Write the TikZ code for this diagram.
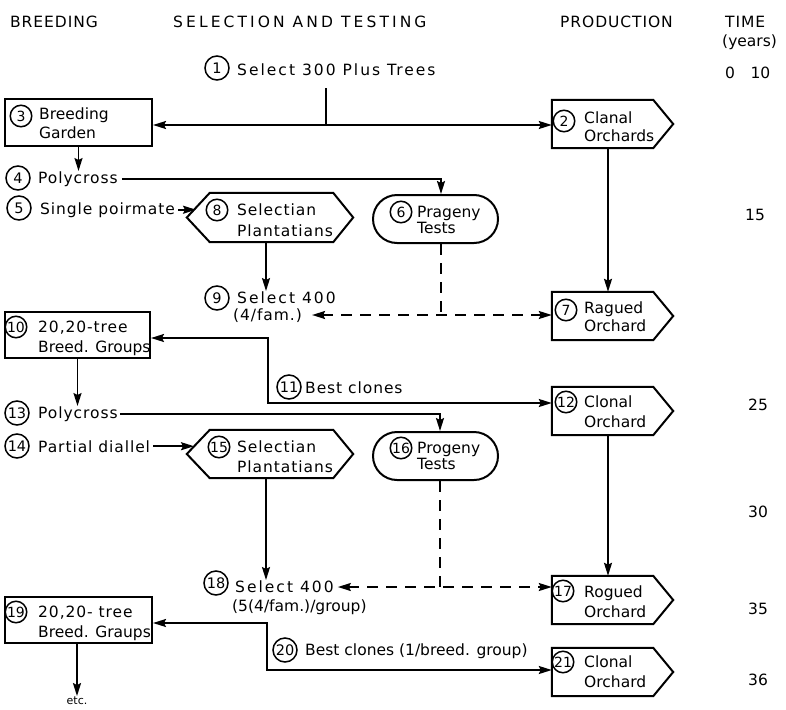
\documentclass[tikz,border=0pt]{standalone}
\usepackage{fontspec}
\setmainfont{DejaVu Sans}
\newfontfamily\wideA[LetterSpace=13]{DejaVu Sans}
\newfontfamily\wideB[LetterSpace=20]{DejaVu Sans}
\newfontfamily\wideC[LetterSpace=6]{DejaVu Sans}
\usetikzlibrary{shapes.misc,arrows.meta}
\newcommand\pentout[1]{\draw[line width=2pt,line join=miter] (#1.north west) -- ([xshift=-20pt]#1.north east) -- (#1.east) -- ([xshift=-20pt]#1.south east) -- (#1.south west) -- cycle;}
\newcommand\hexout[1]{\draw[line width=2pt,line join=miter] (#1.west) -- ([xshift=23pt]#1.north west) -- ([xshift=-20pt]#1.north east) -- (#1.east) -- ([xshift=-20pt]#1.south east) -- ([xshift=23pt]#1.south west) -- cycle;}
\tikzset{
 txt/.style={inner sep=0pt, anchor=base west, font=\fontsize{15.5}{19}\selectfont},
 ftxt/.style={txt, font=\wideC\fontsize{15.5}{19}\selectfont},
 stxt/.style={txt, font=\wideA\fontsize{15.5}{19}\selectfont},
 htxt/.style={txt, font=\wideB\fontsize{15.5}{19}\selectfont},
 tim/.style={inner sep=0pt, anchor=base, font=\fontsize{15.5}{19}\selectfont},
 num/.style={circle, draw, line width=1.5pt, inner sep=0pt, minimum size=24pt, font=\fontsize{14.5}{14.5}\selectfont},
 numin/.style={num, minimum size=21.5pt, font=\fontsize{14}{14}\selectfont},
 box/.style={draw, line width=2pt, inner sep=0pt, minimum width=147pt, minimum height=47pt},
 shp/.style={inner sep=0pt, minimum width=121pt, minimum height=48pt},
 hexshp/.style={inner sep=0pt, minimum width=166pt, minimum height=48pt},
 stad/.style={draw, rounded rectangle, line width=2pt, inner sep=0pt, minimum width=125pt, minimum height=48pt},
 conn/.style={line width=1.9pt},
 dsh/.style={conn, dash pattern=on 11pt off 8pt},
}
\begin{document}
\begin{tikzpicture}[x=1pt,y=-1pt,>={Stealth[length=13pt,width=8pt,inset=2pt]}]
\useasboundingbox (0,0) rectangle (786,709);
% headers
\node[ftxt] (hB) at (10,28) {BREEDING};
\node[htxt] (hS) at (173,28) {SELECTION AND TESTING};
\node[ftxt] (hP) at (560,28) {PRODUCTION};
\node[ftxt] (hT) at (725,28) {TIME};
\node[txt] (hY) at (722,47) {(years)};
\node[txt] (y0) at (725,78) {0\quad 10};
\node[tim] (ti15) at (755,220) {15};
\node[tim] (ti25) at (758,410) {25};
\node[tim] (ti30) at (758,517) {30};
\node[tim] (ti35) at (758,614) {35};
\node[tim] (ti36) at (758,685) {36};
% 1
\node[num] (c1) at (217,68) {1};
\node[stxt] (t1) at (237,75) {Select 300 Plus Trees};
% 3
\node[box] (b3) at (78.5,122) {};
\node[numin] (c3) at (21,116) {3};
\node[txt] (t3a) at (39,119) {Breeding};
\node[txt] (t3b) at (39,138) {Garden};
% 2
\node[shp] (o2) at (612.5,124) {};
\pentout{o2}
\node[numin] (c2) at (564,121) {2};
\node[txt] (t2a) at (584,123) {Clanal};
\node[txt] (t2b) at (584,141) {Orchards};
% 4, 5
\node[num] (c4) at (18,178) {4};
\node[ftxt] (t4) at (38,183) {Polycross};
\node[num] (c5) at (19,208) {5};
\node[ftxt] (t5) at (40,214) {Single poirmate};
% 8
\node[hexshp,minimum height=49pt] (h8) at (270,217.5) {};
\hexout{h8}
\node[numin] (c8) at (217,210) {8};
\node[ftxt] (t8a) at (237,215) {Selectian};
\node[ftxt] (t8b) at (237,236) {Plantatians};
% 6
\node[stad] (s6) at (435.5,219) {};
\node[numin] (c6) at (401,212) {6};
\node[txt] (t6a) at (417,217) {Prageny};
\node[txt] (t6b) at (417,233) {Tests};
% 7
\node[shp] (o7) at (612.5,316) {};
\pentout{o7}
\node[numin] (c7) at (566,310) {7};
\node[txt] (t7a) at (584,313) {Ragued};
\node[txt] (t7b) at (584,331) {Orchard};
% 9
\node[num] (c9) at (217,298) {9};
\node[stxt] (t9a) at (237,303) {Select 400};
\node[ftxt] (t9b) at (233,320) {(4/fam.)};
% 10
\node[box,minimum width=145pt,minimum height=46pt] (b10) at (77.5,335) {};
\node[numin] (c10) at (16,327) {10};
\node[ftxt] (t10a) at (38,332) {20,20-tree};
\node[txt] (t10b) at (38,352) {Breed. Groups};
% 11
\node[num] (c11) at (289,387) {11};
\node[ftxt] (t11) at (305,393) {Best clones};
% 12
\node[shp] (o12) at (612.5,411) {};
\pentout{o12}
\node[numin] (c12) at (566,402) {12};
\node[txt] (t12a) at (584,407) {Clonal};
\node[txt] (t12b) at (584,427) {Orchard};
% 13, 14
\node[num] (c13) at (17,413) {13};
\node[ftxt] (t13) at (38,418) {Polycross};
\node[num] (c14) at (17,446) {14};
\node[ftxt] (t14) at (38,452) {Partial diallel};
% 15
\node[hexshp] (h15) at (270,454) {};
\hexout{h15}
\node[numin] (c15) at (219,447) {15};
\node[ftxt] (t15a) at (237,452) {Selectian};
\node[ftxt] (t15b) at (237,472) {Plantatians};
% 16
\node[stad] (s16) at (435.5,456) {};
\node[numin] (c16) at (401,448) {16};
\node[txt] (t16a) at (417,453) {Progeny};
\node[txt] (t16b) at (417,469) {Tests};
% 18
\node[num] (c18) at (216,583) {18};
\node[stxt] (t18a) at (235,592) {Select 400};
\node[txt] (t18b) at (232,611) {(5(4/fam.)/group)};
% 17
\node[shp] (o17) at (612.5,600) {};
\pentout{o17}
\node[numin] (c17) at (563,591) {17};
\node[txt] (t17a) at (584,597) {Rogued};
\node[txt] (t17b) at (584,617) {Orchard};
% 19
\node[box,minimum height=46pt] (b19) at (78.5,620) {};
\node[numin] (c19) at (16,612) {19};
\node[ftxt] (t19a) at (38,617) {20,20- tree};
\node[txt] (t19b) at (38,637) {Breed. Graups};
% 20
\node[num] (c20) at (285,650) {20};
\node[txt] (t20) at (305,655) {Best clones (1/breed. group)};
% 21
\node[shp] (o21) at (612.5,672) {};
\pentout{o21}
\node[numin] (c21) at (563,662) {21};
\node[txt] (t21a) at (584,667) {Clonal};
\node[txt] (t21b) at (584,687) {Orchard};
% etc
\node[inner sep=0pt, anchor=base, font=\fontsize{11}{12}\selectfont] (tetc) at (77,704) {etc.};

% connectors
\coordinate (j0) at (326,88);
\coordinate (j1) at (326,125);
\draw[conn] (j0) -- (j1);
\draw[conn,<->] (j1 -| b3.east) -- (j1 -| o2.west);
\draw[conn,->] (b3.south) -- (b3.south |- t4.north);
\draw[conn,->] ([xshift=4pt]t4.east) -| ([xshift=5.5pt]s6.north);
\coordinate (h8in) at (196,209);
\draw[conn,->] ([xshift=3pt]t5.east) -- (t5.east -| h8in);
\draw[conn,->] ([xshift=-4pt]h8.south) -- ([xshift=-4pt]h8.south |- t9a.north);
\draw[conn,->] ([xshift=-4.5pt]o2.south) -- ([xshift=-4.5pt]o7.north);
\coordinate (d6) at (441,315);
\draw[dsh] (s6.south -| d6) -- (d6);
\draw[dsh,<->] ([xshift=10pt]t9b.east |- d6) -- (d6 -| o7.west);
\coordinate (k1) at (268,338);
\coordinate (k2) at (268,403);
\draw[conn,<->] (k1 -| b10.east) -- (k1) -- (k2) -- (k2 -| o12.west);
\draw[conn,->] (b10.south) -- (b10.south |- t13.north);
\draw[conn,->] ([xshift=2pt]t13.east) -| ([xshift=4.5pt]s16.north);
\coordinate (h15in) at (194,446);
\draw[conn,->] ([xshift=3pt]t14.east) -- (t14.east -| h15in);
\draw[conn,->] ([xshift=-4pt]h15.south) -- ([xshift=-4pt]h15.south |- t18a.north);
\draw[conn,->] ([xshift=-4.5pt]o12.south) -- ([xshift=-4.5pt]o17.north);
\coordinate (d16) at (440,587);
\draw[dsh] (s16.south -| d16) -- (d16);
\draw[dsh,<->] ([xshift=4pt]t18a.east |- d16) -- (d16 -| o17.west);
\coordinate (k3) at (267,623);
\coordinate (k4) at (267,670);
\draw[conn,<->] (k3 -| b19.east) -- (k3) -- (k4) -- (k4 -| o21.west);
\draw[conn,->] ([xshift=-1.5pt]b19.south) -- ([xshift=-1.5pt]b19.south |- tetc.north);
\end{tikzpicture}
\end{document}
